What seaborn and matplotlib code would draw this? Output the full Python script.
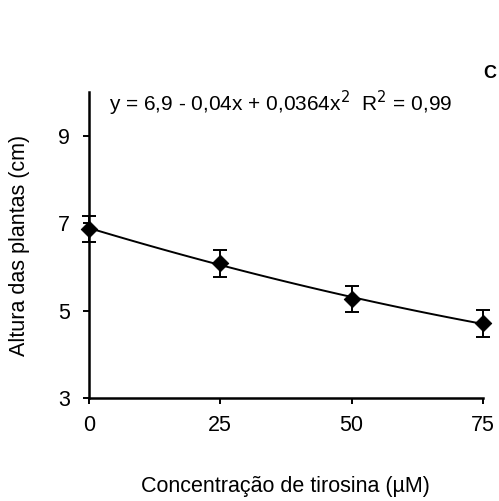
import numpy as np
import pandas as pd
import seaborn as sns
import matplotlib.pyplot as plt

concentracao = [0, 25, 50, 75]
altura = [6.88, 6.09, 5.27, 4.71]
erro = [0.30, 0.31, 0.29, 0.31]
y_ticks = [3, 5, 7, 9]
x_ticks = [0, 25, 50, 75]

df = pd.DataFrame({"Concentracao": concentracao, "Altura": altura, "Erro": erro})

sns.set_style("ticks")
plt.rcParams['font.family'] = ['Liberation Sans', 'DejaVu Sans']
plt.rcParams.update({"text.color": "black", "axes.labelcolor": "black",
                     "xtick.color": "black", "ytick.color": "black"})

fig = plt.figure(figsize=(4.99, 5.01), dpi=100)
ax = fig.add_axes([0.178, 0.2056, 0.79, 0.61])

sns.regplot(x="Concentracao", y="Altura", data=df, order=2, ci=None,
            scatter=False, truncate=True, ax=ax,
            line_kws={"color": "black", "linewidth": 1.4})
ax.errorbar(df["Concentracao"], df["Altura"], yerr=df["Erro"], fmt="none",
            ecolor="black", elinewidth=1.4, capsize=5, capthick=1.4, clip_on=False)
sns.scatterplot(x="Concentracao", y="Altura", data=df, marker="D", s=70,
                color="black", edgecolor="black", ax=ax, clip_on=False, zorder=5)

ax.set_xlim(0, 75)
ax.set_ylim(3, 10)
ax.set_xticks(x_ticks)
ax.set_yticks(y_ticks)
ax.tick_params(axis="both", labelsize=15.5, width=1.4, length=4.5)
ax.tick_params(axis="y", pad=9)
ax.tick_params(axis="x", pad=8)
sns.despine(ax=ax)
for side in ["left", "bottom"]:
    ax.spines[side].set_linewidth(1.8)
    ax.spines[side].set_color("black")

ax.set_xlabel("Concentração de tirosina (µM)", fontsize=15.5)
ax.set_ylabel("Altura das plantas (cm)", fontsize=15.5)
ax.xaxis.set_label_coords(0.5, -0.255)
ax.yaxis.set_label_coords(-0.15, 0.5)

ax.text(0.05, 0.965, r"y = 6,9 - 0,04x + 0,0364x$^2$  R$^2$ = 0,99",
        transform=ax.transAxes, fontsize=15, va="center", ha="left")
fig.text(0.982, 0.854, "C", fontsize=13, fontweight="bold", ha="center", va="center")

plt.savefig("out.png", dpi=100)
